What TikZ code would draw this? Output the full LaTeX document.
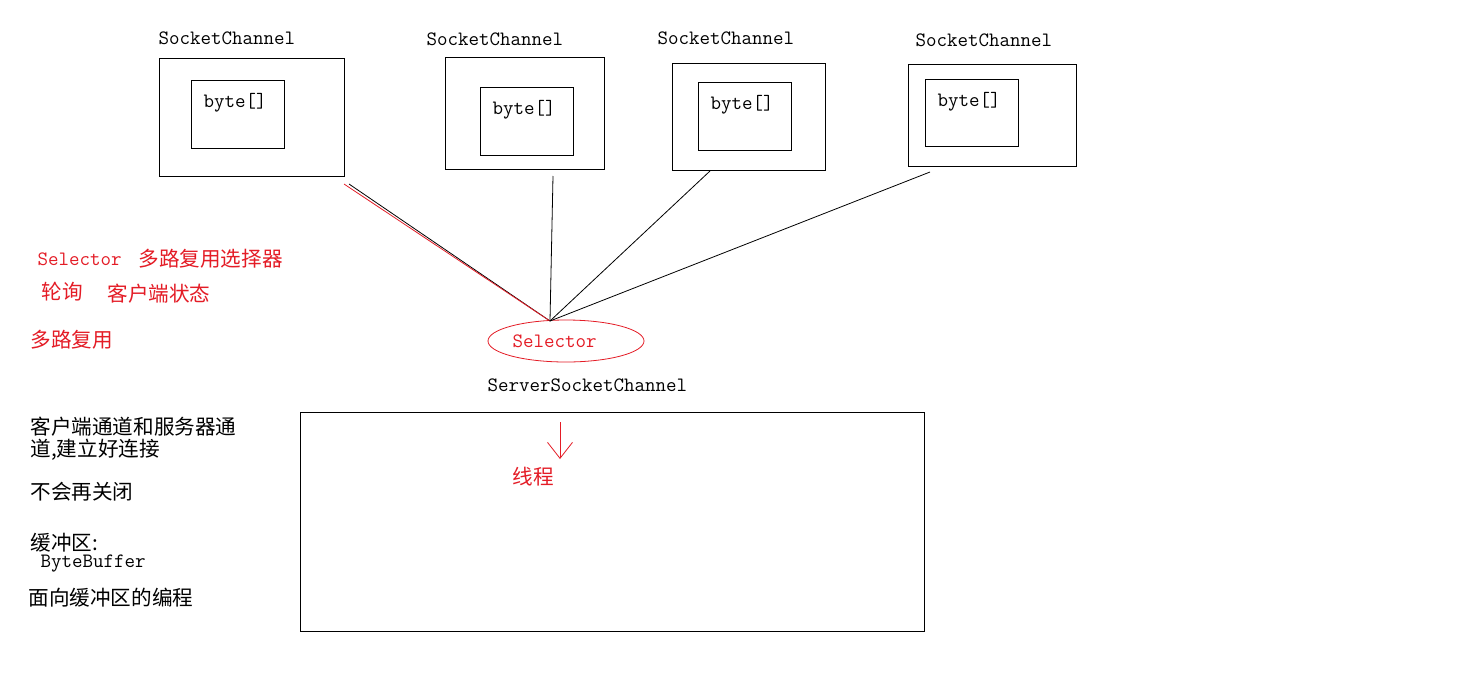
\documentclass[tikz,border=0pt]{standalone}
\usepackage{fontspec}
\newfontfamily\cjk{Noto Sans CJK SC}
\usetikzlibrary{shapes.geometric,arrows.meta}
\definecolor{inkred}{RGB}{228,28,38}
\tikzset{
	chanbox/.style={draw, line width=1pt, inner sep=0pt, outer sep=0pt},
	latin/.style={inner sep=0pt, anchor=west, font=\ttfamily\fontsize{20.4}{22}\selectfont},
	hanzi/.style={inner sep=0pt, anchor=west, align=left, font=\cjk\fontsize{20.6}{22}\selectfont},
	note/.style={text=inkred}
}
\begin{document}
\begin{tikzpicture}[x=1pt, y=-1pt, line width=1pt]
	\useasboundingbox[fill=white] (0,0) rectangle (1462,694);
	% socket channels with their byte buffers
	\node[chanbox, minimum width=185, minimum height=118] (sc1) at (251.5,117) {};
	\node[chanbox, minimum width=93, minimum height=68] (buf1) at (237.5,114) {};
	\node[chanbox, minimum width=159, minimum height=112] (sc2) at (524.5,113) {};
	\node[chanbox, minimum width=93, minimum height=68] (buf2) at (526.5,121) {};
	\node[chanbox, minimum width=153, minimum height=107] (sc3) at (748.5,116.5) {};
	\node[chanbox, minimum width=93, minimum height=68] (buf3) at (744.5,116) {};
	\node[chanbox, minimum width=168, minimum height=102] (sc4) at (992,115) {};
	\node[chanbox, minimum width=93, minimum height=67] (buf4) at (971.5,112.5) {};
	\node[latin] (lbl1) at (158,38) {SocketChannel};
	\node[latin] (lbl2) at (426,39) {SocketChannel};
	\node[latin] (lbl3) at (657,38) {SocketChannel};
	\node[latin] (lbl4) at (915,40) {SocketChannel};
	\node[latin] (byte1) at (203,103) {byte[]};
	\node[latin] (byte2) at (492,110) {byte[]};
	\node[latin] (byte3) at (710,105) {byte[]};
	\node[latin] (byte4) at (937,102) {byte[]};
	% selector
	\node[ellipse, draw=inkred, line width=0.8pt, minimum width=156, minimum height=42, inner sep=0pt] (sel) at (566,341) {};
	\node[latin, note] (seltext) at (512,341) {Selector};
	\coordinate (hub) at (550,321);
	\coordinate (t1) at (349,184);
	\coordinate (t1r) at (344,184);
	\coordinate (t2) at (553,176);
	\coordinate (t3) at (710,171);
	\coordinate (t4) at (930,172);
	\draw[line width=0.8pt] (t1) -- (hub);
	\draw[inkred, line width=0.8pt] (t1r) -- (hub);
	\draw[line width=0.8pt] (t2) -- (hub);
	\draw[line width=0.8pt] (t3) -- (hub);
	\draw[line width=0.8pt] (t4) -- (hub);
	% server side
	\node[latin] (ssc) at (487,385) {ServerSocketChannel};
	\node[chanbox, minimum width=624, minimum height=219] (srv) at (612,521.5) {};
	\coordinate (arrtop) at (560,422);
	\coordinate (arrtip) at (560,459);
	\draw[inkred, line width=0.8pt, -{Straight Barb[length=16pt, width=25pt, line width=0.8pt]}] (arrtop) -- (arrtip);
	\node[hanzi, note] (thread) at (512,477) {线程};
	% notes on the left
	\node[latin, note] (n1) at (37,259) {Selector};
	\node[hanzi, note] (n2) at (138,259) {多路复用选择器};
	\node[hanzi, note] (n3) at (41,292) {轮询};
	\node[hanzi, note] (n4) at (107,294) {客户端状态};
	\node[hanzi, note] (n5) at (30,340) {多路复用};
	\node[hanzi] (n6) at (30,439) {客户端通道和服务器通\\道,建立好连接};
	\node[hanzi] (n7) at (30,492) {不会再关闭};
	\node[hanzi] (n8) at (30,543) {缓冲区:};
	\node[latin] (n9) at (40,564) {ByteBuffer};
	\node[hanzi] (n10) at (28,598) {面向缓冲区的编程};
\end{tikzpicture}
\end{document}
